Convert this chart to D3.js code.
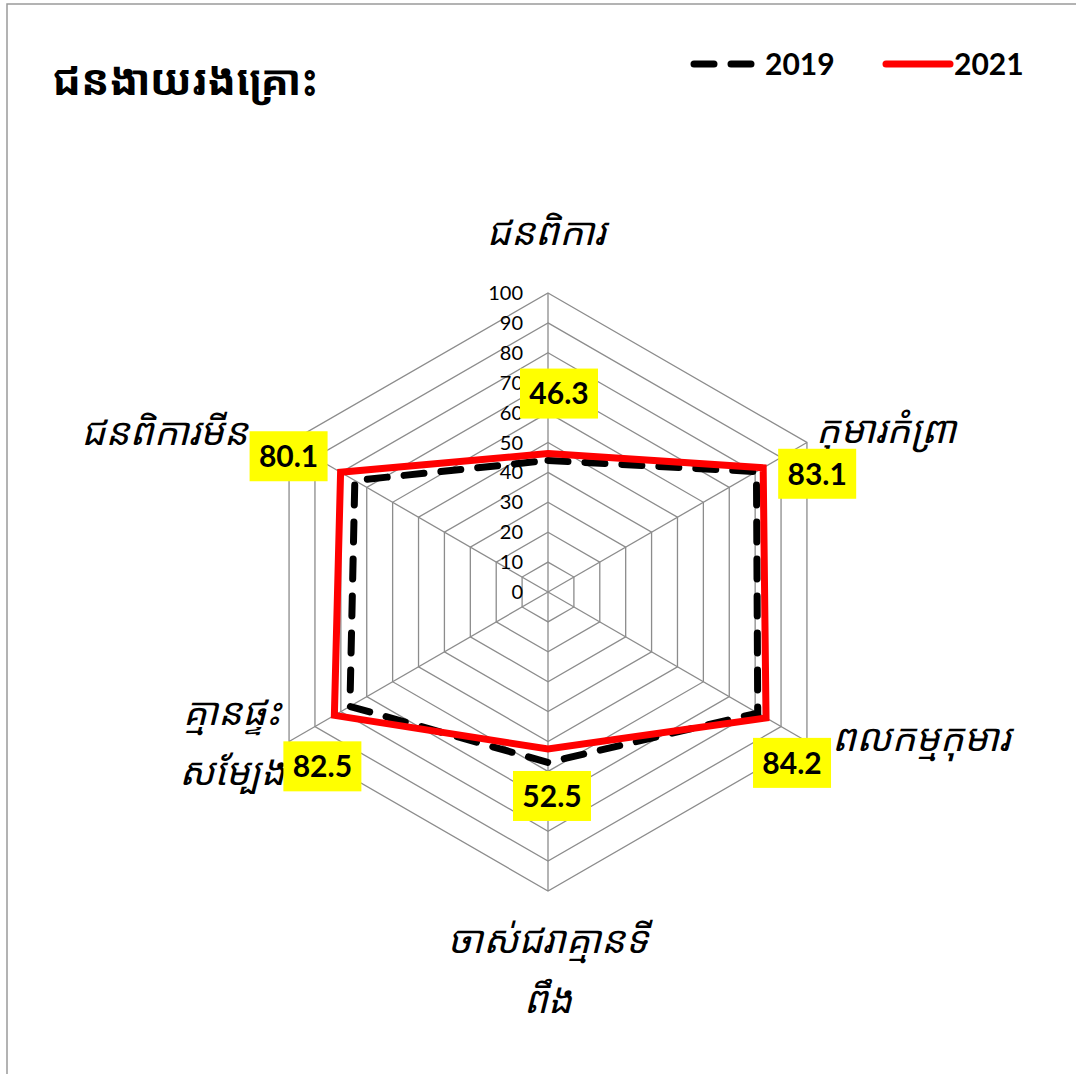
<!DOCTYPE html>
<html>
<head>
<meta charset="utf-8">
<script src="https://cdn.jsdelivr.net/npm/d3@7"></script>
<style>
  body { margin: 0; background: #fff; }
  .khmer { font-family: "Khmer OS", "Noto Sans Khmer", "Noto Serif Khmer", sans-serif; }
  .num { font-family: Lato, "Open Sans", sans-serif; }
</style>
</head>
<body>
<svg id="chart" width="1076" height="1074"></svg>
<script>
// categories clockwise from the top, each one split into display lines
const categories = [
  ['ជនពិការ'],
  ['កុមារកំព្រា'],
  ['ពលកម្មកុមារ'],
  ['ចាស់ជរាគ្មានទី', 'ពឹង'],
  ['គ្មានផ្ទះ', 'សម្បែង'],
  ['ជនពិការមីន']
];
const years = ['2019', '2021'];
const values2019 = [44.0, 80.5, 81.0, 57.0, 76.5, 74.6];
const values2021 = [46.3, 83.1, 84.2, 52.5, 82.5, 80.1];
const tickValues = [0, 10, 20, 30, 40, 50, 60, 70, 80, 90, 100];
const title = 'ជនងាយរងគ្រោះ';

const cx = 548, cy = 592, R = 299;
const colors = { grid: '#8c8c8c', s2019: '#000', s2021: '#ff0000', label: '#ffff00' };

// where the yellow data labels sit relative to each 2021 point (hand placed, like Excel)
const labelOffsets = [[11, -60], [54, 6], [26, 45], [4, 47], [-12, 51], [-52, -16]];
// category label anchor points (relative to the centre) and alignment
const catLayout = [
  { x: -2, y: -360, anchor: 'middle' },
  { x: 268, y: -162, anchor: 'start' },
  { x: 284, y: 146, anchor: 'start' },
  { x: 0, y: 348, anchor: 'middle' },
  { x: -316, y: 120, anchor: 'middle' },
  { x: -300, y: -160, anchor: 'end' }
];

const svg = d3.select('#chart');
const r = d3.scaleLinear().domain([0, 100]).range([0, R]);
const angle = (i) => (-90 + i * 360 / categories.length) * Math.PI / 180;
const pt = (i, v) => [cx + r(v) * Math.cos(angle(i)), cy + r(v) * Math.sin(angle(i))];

// outer frame of the chart area
svg.append('rect')
  .attr('x', 7).attr('y', 4)
  .attr('width', 1200).attr('height', 1200)
  .attr('fill', 'none')
  .attr('stroke', '#9a9a9a')
  .attr('stroke-width', 1.5);

// hexagon rings
const ringLine = d3.line();
svg.append('g').selectAll('path')
  .data(tickValues.filter(d => d > 0))
  .join('path')
  .attr('d', v => ringLine(categories.map((c, i) => pt(i, v))) + 'Z')
  .attr('fill', 'none')
  .attr('stroke', colors.grid)
  .attr('stroke-width', 1.3);

// spokes
svg.append('g').selectAll('line')
  .data(categories)
  .join('line')
  .attr('x1', cx).attr('y1', cy)
  .attr('x2', (d, i) => pt(i, 100)[0])
  .attr('y2', (d, i) => pt(i, 100)[1])
  .attr('stroke', colors.grid)
  .attr('stroke-width', 1.3);

// radial tick labels
svg.append('g').selectAll('text')
  .data(tickValues)
  .join('text')
  .attr('class', 'num')
  .attr('x', cx - 25)
  .attr('y', v => cy - r(v))
  .attr('dy', '0.35em')
  .attr('text-anchor', 'end')
  .attr('font-size', 20)
  .attr('fill', '#000')
  .text(v => v);

// series
const series = [
  { name: years[0], values: values2019, color: colors.s2019, dash: '20,17' },
  { name: years[1], values: values2021, color: colors.s2021, dash: null }
];
const lineGen = d3.line().curve(d3.curveLinearClosed);
svg.append('g').selectAll('path')
  .data(series)
  .join('path')
  .attr('d', s => lineGen(s.values.map((v, i) => pt(i, v))))
  .attr('fill', 'none')
  .attr('stroke', s => s.color)
  .attr('stroke-width', 7)
  .attr('stroke-linecap', s => s.dash ? 'round' : 'butt')
  .attr('stroke-linejoin', 'miter')
  .attr('stroke-dasharray', s => s.dash);

// category labels
const cats = svg.append('g').selectAll('text')
  .data(categories)
  .join('text')
  .attr('class', 'khmer')
  .attr('font-size', 38)
  .attr('font-style', 'italic')
  .attr('fill', '#000')
  .attr('text-anchor', (d, i) => catLayout[i].anchor)
  .attr('x', (d, i) => cx + catLayout[i].x)
  .attr('y', (d, i) => cy + catLayout[i].y);
cats.selectAll('tspan')
  .data(d => d)
  .join('tspan')
  .attr('x', function() { return d3.select(this.parentNode).attr('x'); })
  .attr('dy', (d, j) => j === 0 ? '0.35em' : 60)
  .text(d => d);

// data labels for 2021
const labels = svg.append('g').selectAll('g')
  .data(values2021)
  .join('g')
  .attr('transform', (v, i) => {
    const p = pt(i, v);
    return `translate(${p[0] + labelOffsets[i][0]},${p[1] + labelOffsets[i][1]})`;
  });
labels.append('rect')
  .attr('x', -39).attr('y', -25)
  .attr('width', 78).attr('height', 50)
  .attr('fill', colors.label);
labels.append('text')
  .attr('class', 'num')
  .attr('text-anchor', 'middle')
  .attr('dy', '0.36em')
  .attr('font-size', 30)
  .attr('font-weight', 'bold')
  .attr('fill', '#000')
  .text(v => v.toFixed(1));

// title
svg.append('text')
  .attr('class', 'khmer')
  .attr('x', 52).attr('y', 80)
  .attr('dy', '0.35em')
  .attr('font-size', 42)
  .attr('font-weight', 'bold')
  .text(title);

// legend
const legend = svg.append('g').selectAll('g')
  .data(series)
  .join('g')
  .attr('transform', (s, i) => `translate(${694 + i * 192},64)`);
legend.append('line')
  .attr('x1', 0).attr('x2', (s) => s.dash ? 58 : 64)
  .attr('y1', 0).attr('y2', 0)
  .attr('stroke', s => s.color)
  .attr('stroke-width', 7)
  .attr('stroke-linecap', 'round')
  .attr('stroke-dasharray', s => s.dash);
legend.append('text')
  .attr('class', 'num')
  .attr('x', (s) => s.dash ? 71 : 68)
  .attr('dy', '0.36em')
  .attr('font-size', 30)
  .attr('font-weight', 'bold')
  .text(s => s.name);
</script>
</body>
</html>
